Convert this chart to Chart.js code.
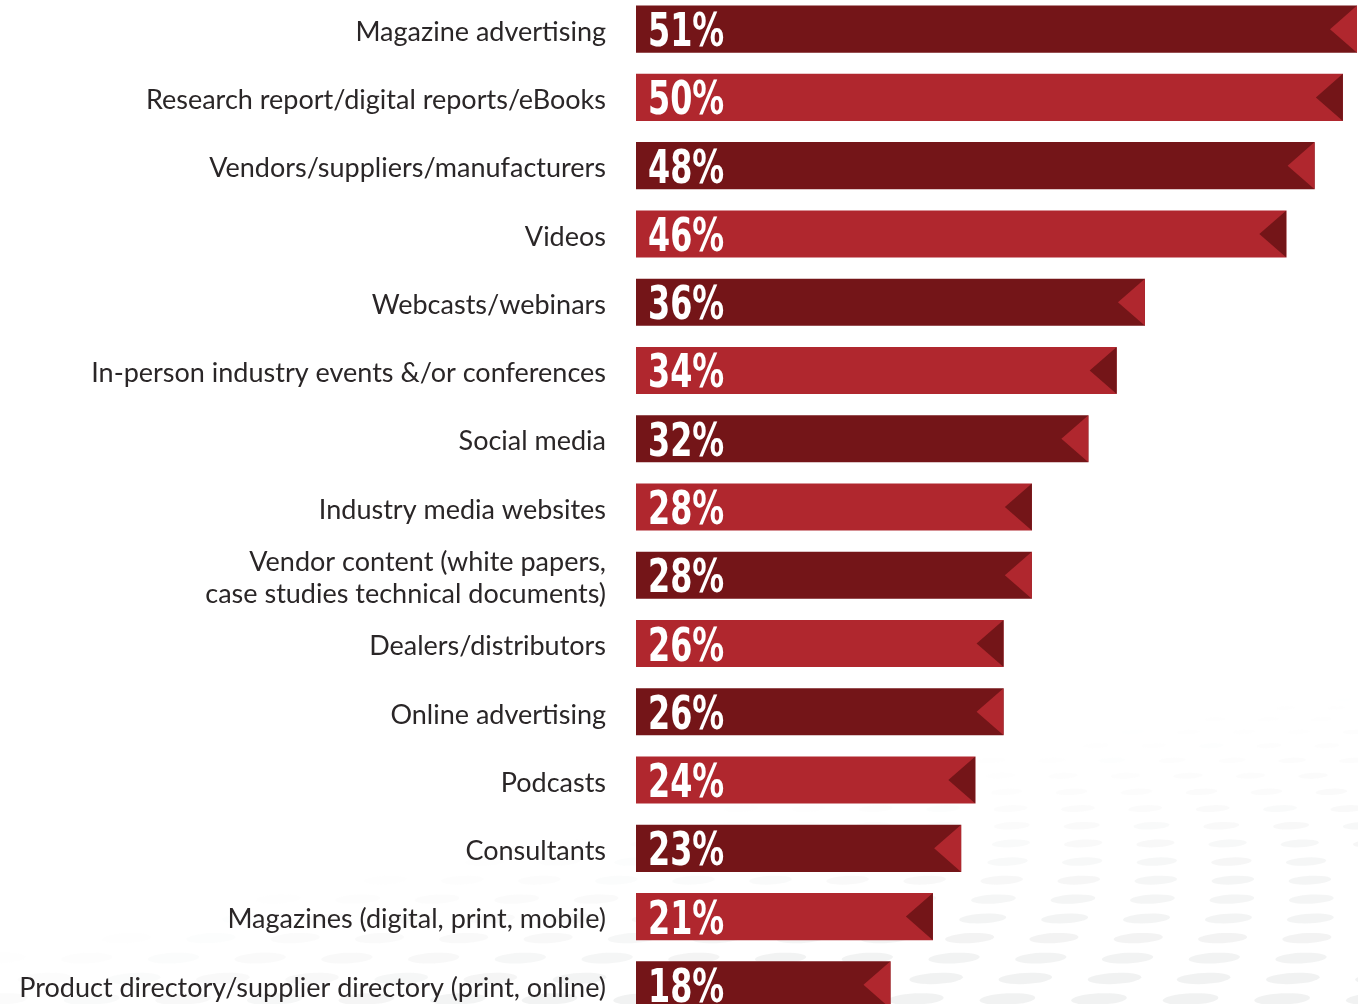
<!DOCTYPE html>
<html>
<head>
<meta charset="utf-8">
<script src="https://cdn.jsdelivr.net/npm/chart.js@4.4.1/dist/chart.umd.min.js"></script>
<style>
  html, body { margin: 0; padding: 0; background: #fff; overflow: hidden; }
  #wrap { position: absolute; left: 0; top: -5px; width: 1358px; height: 1024px; }
</style>
</head>
<body>
<div id="wrap"><canvas id="sourcesChart"></canvas></div>
<script>
const sources = [
  'Magazine advertising',
  'Research report/digital reports/eBooks',
  'Vendors/suppliers/manufacturers',
  'Videos',
  'Webcasts/webinars',
  'In-person industry events &/or conferences',
  'Social media',
  'Industry media websites',
  ['Vendor content (white papers,', 'case studies technical documents)'],
  'Dealers/distributors',
  'Online advertising',
  'Podcasts',
  'Consultants',
  'Magazines (digital, print, mobile)',
  'Product directory/supplier directory (print, online)'
];
const shares = [51, 50, 48, 46, 36, 34, 32, 28, 28, 26, 26, 24, 23, 21, 18];

const darkRed = 'rgb(116, 21, 24)';
const red = 'rgb(176, 39, 46)';
const barColors = shares.map((v, i) => i % 2 === 0 ? darkRed : red);
const notchColors = shares.map((v, i) => i % 2 === 0 ? red : darkRed);

// faint perspective dot field in the lower part of the page
const halftone = {
  id: 'halftone',
  beforeDraw(chart) {
    const ctx = chart.ctx;
    ctx.save();
    const rows = 20;
    for (let r = 0; r < rows; r++) {
      const t = r / (rows - 1);
      const y = 705 + Math.pow(t, 1.25) * 320;
      const w = 16 + t * 42, h = 3 + t * 9;
      const gap = 48 + t * 46;
      const shift = (r % 2) * gap / 2;
      for (let x = -gap + shift; x < 1420; x += gap) {
        // fade out above a diagonal running from lower left to upper right
        const edge = 990 - (x / 1358) * 280;
        const a = Math.max(0, Math.min(1, (y - edge + 40) / 180)) * (0.2 + 0.8 * t);
        if (a <= 0.01) continue;
        ctx.fillStyle = `rgba(240, 241, 241, ${a})`;
        ctx.beginPath();
        ctx.ellipse(x, y, w / 2, h / 2, -0.05, 0, Math.PI * 2);
        ctx.fill();
      }
    }
    ctx.restore();
  }
};

// arrow notch at each bar end plus the percentage inside the bar
const barDecor = {
  id: 'barDecor',
  afterDatasetsDraw(chart) {
    const ctx = chart.ctx;
    const meta = chart.getDatasetMeta(0);
    meta.data.forEach((bar, i) => {
      const { x, y, base, height } = bar.getProps(['x', 'y', 'base', 'height'], true);
      const top = y - height / 2, bottom = y + height / 2;
      ctx.save();
      ctx.fillStyle = notchColors[i];
      ctx.beginPath();
      ctx.moveTo(x, top);
      ctx.lineTo(x, bottom);
      ctx.lineTo(x - 27, y);
      ctx.closePath();
      ctx.fill();

      // condensed figures
      ctx.translate(base + 12, y + 17);
      ctx.scale(0.77, 1);
      ctx.fillStyle = '#fff';
      ctx.font = 'bold 46px "DejaVu Sans Condensed", "DejaVu Sans", sans-serif';
      ctx.textAlign = 'left';
      ctx.textBaseline = 'alphabetic';
      ctx.fillText(shares[i] + '%', 0, 0);
      ctx.restore();
    });
  }
};

new Chart(document.getElementById('sourcesChart'), {
  type: 'bar',
  data: {
    labels: sources,
    datasets: [{
      data: shares,
      backgroundColor: barColors,
      borderWidth: 0,
      barPercentage: 0.69,
      categoryPercentage: 1
    }]
  },
  options: {
    indexAxis: 'y',
    responsive: true,
    maintainAspectRatio: false,
    animation: false,
    layout: { padding: 0 },
    plugins: { legend: { display: false }, tooltip: { enabled: false } },
    scales: {
      x: { display: false, min: 0, max: 51.07 },
      y: {
        afterFit(scale) {
          scale.width = 636;
          scale.paddingTop = 0;
          scale.paddingBottom = 0;
        },
        border: { display: false },
        grid: { display: false, drawTicks: false },
        ticks: {
          padding: 30,
          labelOffset: 3,
          color: '#2a2627',
          font: { family: 'Lato', size: 27 },
          lineHeight: 1.2
        }
      }
    }
  },
  plugins: [halftone, barDecor]
});
</script>
</body>
</html>
